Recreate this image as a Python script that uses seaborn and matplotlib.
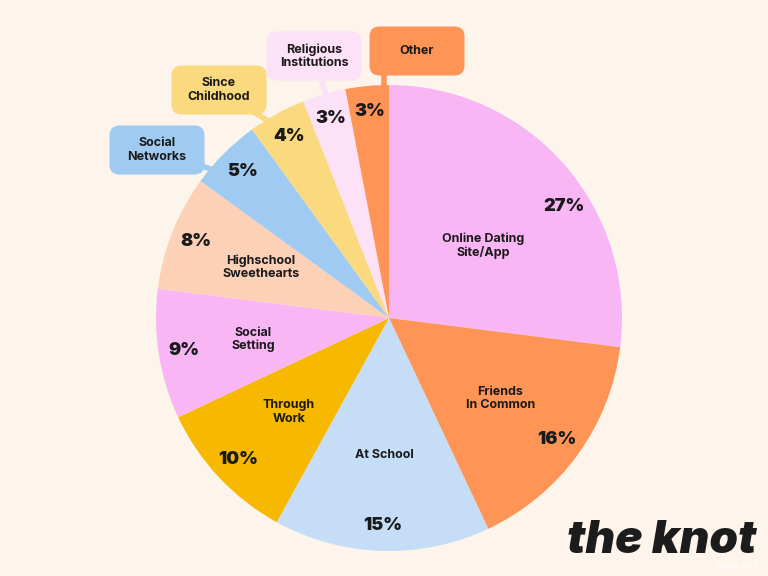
import numpy as np
import matplotlib
matplotlib.use("Agg")
import matplotlib.pyplot as plt
from matplotlib.patches import FancyBboxPatch
import seaborn as sns

sns.set_theme(style="white")
plt.rcParams['font.family'] = ['Inter', 'DejaVu Sans']

labels = ['Online Dating\nSite/App', 'Friends\nIn Common', 'At School', 'Through\nWork',
          'Social\nSetting', 'Highschool\nSweethearts', 'Social\nNetworks', 'Since\nChildhood',
          'Religious\nInstitutions', 'Other']
values = [27, 16, 15, 10, 9, 8, 5, 4, 3, 3]
colors = ['#f9b6f5', '#ff9457', '#c5ddf6', '#f7b800', '#f9b6f5', '#fdd0b8',
          '#9fcbf2', '#fad97f', '#fde1f7', '#ff9457']
# slices whose name sits in a callout box outside the pie
callout = [False, False, False, False, False, False, True, True, True, True]
# box centres (pixels from top-left) and where the connector meets the rim (deg)
box_pos = {6: (157, 150), 7: (219, 90), 8: (314, 56), 9: (417, 51)}
rim_angle = {6: 140, 7: 121.5, 8: 105.8, 9: 91.2}
# connector start x inside the box (None = box centre)
line_x = {6: None, 7: None, 8: None, 9: 384}

bg = '#fdf4ec'
fig = plt.figure(figsize=(7.68, 5.76), dpi=100, facecolor=bg)
ax = fig.add_axes([0, 0, 1, 1])
ax.set_facecolor(bg)

cx, cy, R = 389, 576 - 318, 233
wedges, _ = ax.pie(values, colors=colors, startangle=90, counterclock=False,
                   center=(cx, cy), radius=R, frame=True,
                   wedgeprops=dict(linewidth=0, edgecolor='none'))
ax.set_xlim(0, 768)
ax.set_ylim(0, 576)
ax.axis('off')

for i, w in enumerate(wedges):
    mid = np.deg2rad((w.theta1 + w.theta2) / 2)
    # percentage near the rim
    pa = mid
    if i == 0:
        pa = mid - np.deg2rad(9)
    pr = 0.89 * R
    ax.text(cx + pr * np.cos(pa), cy + pr * np.sin(pa), f'{values[i]}%',
            ha='center', va='center', fontsize=13, fontweight='black', color='#1a1a1a')
    if not callout[i]:
        la, lr = mid, 0.59 * R
        if i == 0:
            la, lr = mid - np.deg2rad(4), 0.51 * R
        ax.text(cx + lr * np.cos(la), cy + lr * np.sin(la), labels[i],
                ha='center', va='center', fontsize=9, fontweight='bold',
                color='#1a1a1a', linespacing=1.15)
    else:
        bx, by = box_pos[i]
        by = 576 - by
        a = np.deg2rad(rim_angle[i])
        ex, ey = cx + (R - 2) * np.cos(a), cy + (R - 2) * np.sin(a)
        sx = bx if line_x[i] is None else line_x[i]
        if line_x[i] is not None:
            ex = sx
        ax.plot([sx, ex], [by, ey], color=colors[i], lw=4, zorder=0.5,
                solid_capstyle='butt')
        bw, bh = 95, 49
        ax.add_patch(FancyBboxPatch((bx - bw / 2 + 10, by - bh / 2 + 10), bw - 20, bh - 20,
                                    boxstyle='round,pad=10', fc=colors[i], ec='none',
                                    zorder=3))
        ax.text(bx, by, labels[i], ha='center', va='center', fontsize=9,
                fontweight='bold', color='#1a1a1a', linespacing=1.15, zorder=4)

ax.text(662, 576 - 541, 'the knot', ha='center', va='center', fontsize=33,
        fontweight='black', fontstyle='italic', color='#1c1c1c')
ax.text(738, 576 - 566, 'xogrp.com', ha='center', va='center', fontsize=6,
        color='#ffffff')

fig.savefig('out.png', dpi=100, facecolor=bg)
